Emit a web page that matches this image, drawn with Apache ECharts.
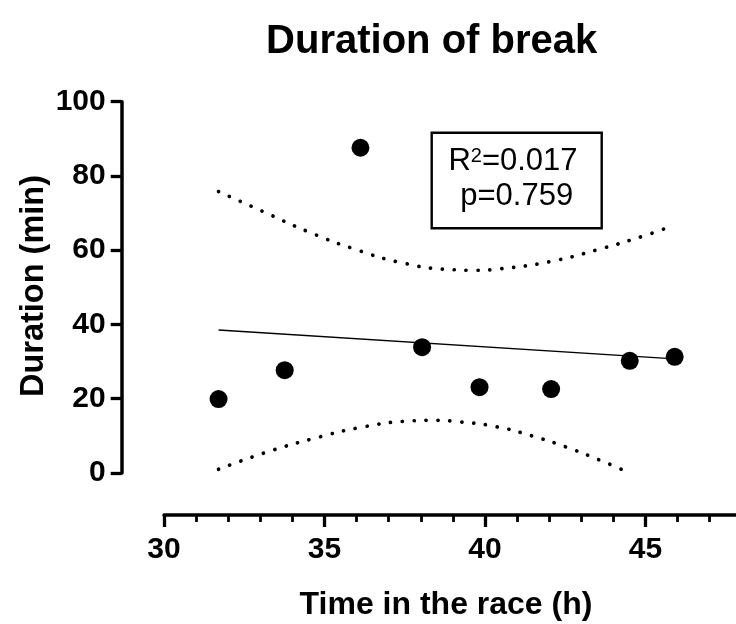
<!DOCTYPE html>
<html>
<head>
<meta charset="utf-8">
<script src="https://cdn.jsdelivr.net/npm/echarts@6/dist/echarts.min.js"></script>
<style>html,body{margin:0;padding:0;background:#fff}#c{width:736px;height:624px}</style>
</head>
<body>
<div id="c"></div>
<script>
// ---- data ----
var breakTimeH = [31.70, 33.76, 36.12, 38.04, 39.83, 42.06, 44.51, 45.91];
var breakDurationMin = [19.9, 27.7, 87.6, 33.9, 23.1, 22.6, 30.2, 31.3];
var fitX = [31.70, 45.91];
var fitY = [38.5, 30.75];
var upperCiX = [31.70, 33.09, 34.49, 35.94, 37.42, 38.92, 39.70, 40.48, 42.01, 43.49, 45.00, 45.72];
var upperCiY = [75.8, 70.4, 65.0, 60.3, 56.6, 54.8, 54.6, 55.0, 56.9, 60.1, 64.0, 66.2];
var lowerCiX = [31.70, 33.16, 34.63, 36.14, 37.65, 38.42, 39.19, 40.34, 41.46, 42.56, 43.65, 44.35];
var lowerCiY = [1.0, 5.5, 9.2, 12.3, 14.0, 14.2, 13.8, 12.5, 10.0, 6.9, 3.2, 0.6];
var xTicks = [30, 35, 40, 45];
var yTicks = [0, 20, 40, 60, 80, 100];
var titleText = 'Duration of break';
var xName = 'Time in the race (h)';
var yName = 'Duration (min)';
var r2Text = '{r|R}{s|2}{r|=0.017}';
var pText = 'p=0.759';

function pairs(xs, ys) { return xs.map(function (x, i) { return [x, ys[i]]; }); }

var FONT = '"Liberation Sans", Arial, sans-serif';
var chart = echarts.init(document.getElementById('c'), null, {renderer: 'canvas'});
var ciStyle = {color: '#000', width: 3.7, type: [0.1, 11.8], cap: 'round'};

chart.setOption({
  animation: false,
  backgroundColor: '#fff',
  grid: {left: 164, top: 101.7, width: 642, height: 371.3, containLabel: false, outerBoundsMode: 'none'},
  xAxis: {
    type: 'value', min: 30, max: 50, interval: 5, offset: 42,
    axisLine: {show: true, onZero: false, lineStyle: {color: '#000', width: 3.5}},
    axisTick: {show: true, length: 12, lineStyle: {color: '#000', width: 3.3}},
    minorTick: {show: true, splitNumber: 5, length: 7, lineStyle: {color: '#000', width: 2.8}},
    splitLine: {show: false},
    axisLabel: {
      color: '#000', fontFamily: FONT, fontWeight: 'bold', fontSize: 30,
      margin: 35, verticalAlign: 'middle', showMaxLabel: false,
      formatter: function (v) { return xTicks.indexOf(v) >= 0 ? String(v) : ''; }
    }
  },
  yAxis: {
    type: 'value', min: 0, max: 100, interval: 20, offset: 42.3,
    axisLine: {show: true, onZero: false, lineStyle: {color: '#000', width: 3.5}},
    axisTick: {show: true, length: 11, lineStyle: {color: '#000', width: 3.3}},
    splitLine: {show: false},
    axisLabel: {
      color: '#000', fontFamily: FONT, fontWeight: 'bold', fontSize: 30, margin: 16,
      formatter: function (v) { return yTicks.indexOf(v) >= 0 ? String(v) : ''; }
    }
  },
  series: [
    {type: 'line', data: pairs(upperCiX, upperCiY), smooth: true, symbol: 'none', lineStyle: ciStyle, z: 2},
    {type: 'line', data: pairs(lowerCiX, lowerCiY), smooth: true, symbol: 'none', lineStyle: ciStyle, z: 2},
    {type: 'line', data: pairs(fitX, fitY), symbol: 'none', lineStyle: {color: '#000', width: 1.4}, z: 3},
    {type: 'scatter', data: pairs(breakTimeH, breakDurationMin), symbol: 'circle', symbolSize: 18,
     itemStyle: {color: '#000', opacity: 1}, z: 4}
  ],
  graphic: [
    {type: 'text', x: 431.7, y: 41.5, style: {text: titleText, font: 'bold 40px ' + FONT, fill: '#000', align: 'center', verticalAlign: 'middle'}},
    {type: 'text', x: 446, y: 605, style: {text: xName, font: 'bold 32px ' + FONT, fill: '#000', align: 'center', verticalAlign: 'middle'}},
    {type: 'text', x: 33.7, y: 286, rotation: Math.PI / 2, style: {text: yName, font: 'bold 32.5px ' + FONT, fill: '#000', align: 'center', verticalAlign: 'middle'}},
    {type: 'rect', shape: {x: 431.7, y: 132.7, width: 170, height: 95.6}, style: {fill: '#fff', stroke: '#000', lineWidth: 2.4}, z: 10},
    {type: 'text', x: 513, y: 161.7, z: 11, style: {text: r2Text, fill: '#000', align: 'center', verticalAlign: 'middle',
      rich: {r: {fontFamily: FONT, fontSize: 31, fill: '#000'}, s: {fontFamily: FONT, fontSize: 20, fill: '#000', verticalAlign: 'top'}}}},
    {type: 'text', x: 516.7, y: 196, z: 11, style: {text: pText, font: '31px ' + FONT, fill: '#000', align: 'center', verticalAlign: 'middle'}}
  ]
});
</script>
</body>
</html>
